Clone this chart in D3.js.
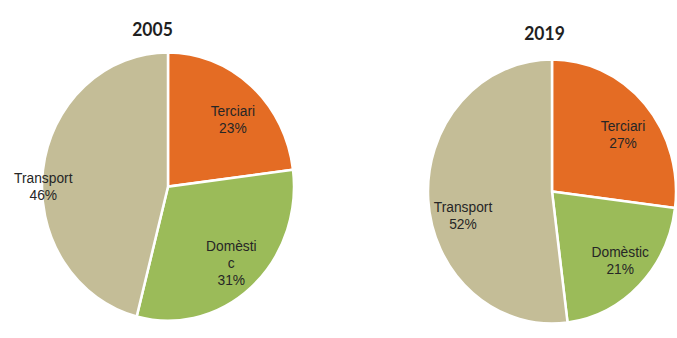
<!DOCTYPE html>
<html>
<head>
<meta charset="utf-8">
<script src="https://cdn.jsdelivr.net/npm/d3@7/dist/d3.min.js"></script>
<style>
  html, body { margin: 0; padding: 0; background: #fff; }
  svg { display: block; }
</style>
</head>
<body>
<svg id="chart" width="677" height="338"></svg>
<script>
// Energy consumption share by sector
const categories = ["Terciari", "Domèstic", "Transport"];
const years = ["2005", "2019"];
const values2005 = [23, 31, 46];
const values2019 = [27, 21, 52];
// Category name lines as wrapped inside each slice
const nameLines2005 = [["Terciari"], ["Domèsti", "c"], ["Transport"]];
const nameLines2019 = [["Terciari"], ["Domèstic"], ["Transport"]];

const colors = ["#E46C24", "#9BBB59", "#C4BD97"];

// Layout (drawing units; whole drawing is stretched vertically by yStretch)
const yStretch = 1.065;
const pies = [
  { year: years[0], values: values2005, names: nameLines2005,
    cx: 168, cy: 175.2, r: 126, titleX: 152.5, titleY: 33.8,
    labelPos: [{ f: 0.72, da: 4.3 }, { f: 0.76, da: 0 }, { f: 0.99, da: -7.2 }] },
  { year: years[1], values: values2019, names: nameLines2019,
    cx: 552, cy: 179.8, r: 124, titleX: 544.5, titleY: 37.6,
    labelPos: [{ f: 0.72, da: 4.1 }, { f: 0.76, da: -1.4 }, { f: 0.74, da: -10.4 }] }
];

const svg = d3.select("#chart");
const root = svg.append("g").attr("transform", `scale(1,${yStretch})`);

const pie = d3.pie().sort(null).value(d => d);
const color = d3.scaleOrdinal().domain(categories).range(colors);

const fontSize = 13.8, lineH = 16, capH = 0.716 * fontSize;

pies.forEach(p => {
  const g = root.append("g").attr("transform", `translate(${p.cx},${p.cy})`);
  const arc = d3.arc().innerRadius(0).outerRadius(p.r);
  const arcs = pie(p.values);

  g.selectAll("path")
    .data(arcs)
    .join("path")
    .attr("d", arc)
    .attr("fill", (d, i) => color(categories[i]))
    .attr("stroke", "#fff")
    .attr("stroke-width", 2.5)
    .attr("stroke-linejoin", "miter");

  arcs.forEach((d, i) => {
    const lp = p.labelPos[i];
    const a = (d.startAngle + d.endAngle) / 2 + lp.da * Math.PI / 180;
    const rr = lp.f * p.r;
    const x = Math.sin(a) * rr, y = -Math.cos(a) * rr;
    const lines = p.names[i].concat([d.data + "%"]);
    const b1 = y + capH / 2 - (lines.length - 1) * lineH / 2;
    const t = g.append("text")
      .attr("text-anchor", "middle")
      .attr("font-family", "'Liberation Sans', Arial, sans-serif")
      .attr("font-size", fontSize)
      .attr("fill", "#262626");
    lines.forEach((ln, k) => {
      t.append("tspan").attr("x", x).attr("y", b1 + k * lineH).text(ln);
    });
  });

  root.append("text")
    .attr("x", p.titleX)
    .attr("y", p.titleY)
    .attr("text-anchor", "middle")
    .attr("font-family", "Lato, 'Open Sans', sans-serif")
    .attr("font-weight", "bold")
    .attr("font-size", 17.5)
    .attr("fill", "#1f1f1f")
    .text(p.year);
});
</script>
</body>
</html>
